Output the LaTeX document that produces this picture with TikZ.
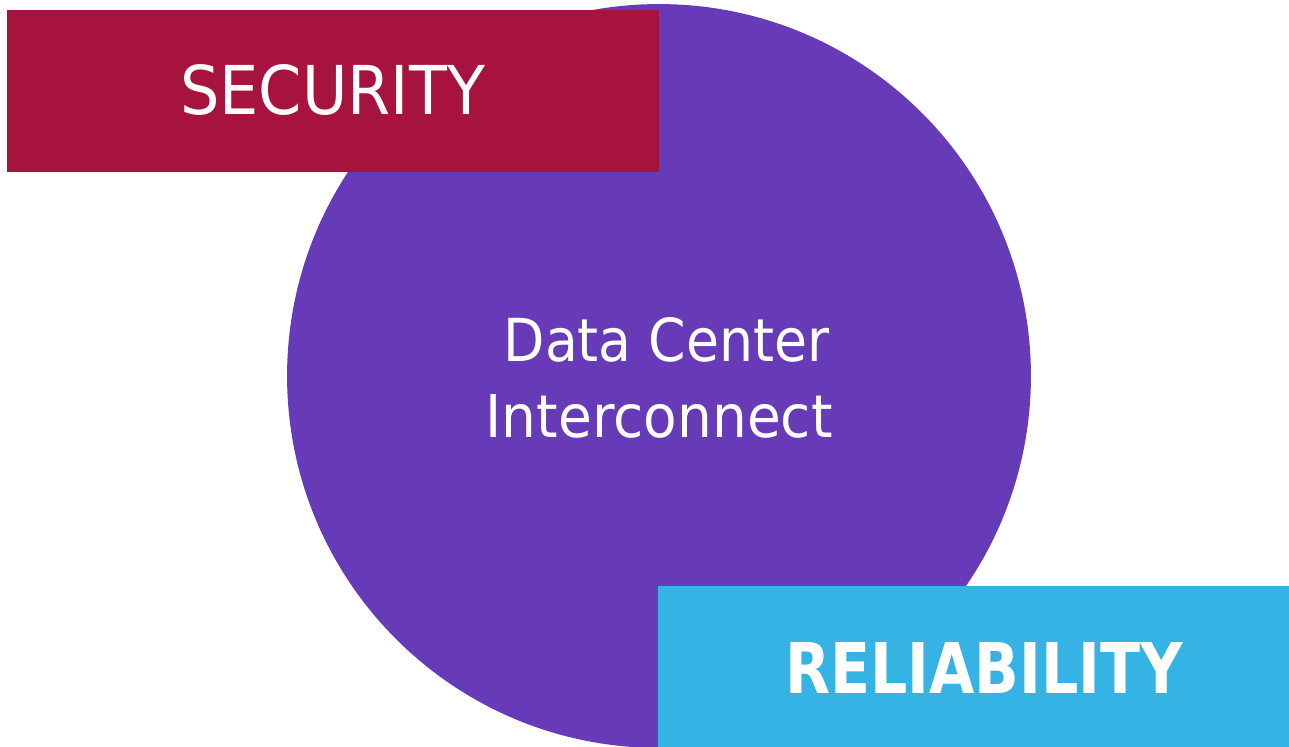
\documentclass[tikz,border=0pt]{standalone}
\usepackage{fontspec}
\usepackage{graphicx}
\setmainfont{DejaVu Sans}
\definecolor{secred}{HTML}{A6133F}
\definecolor{dcipurple}{HTML}{673AB7}
\definecolor{relblue}{HTML}{36B3E5}
\begin{document}
\begin{tikzpicture}[x=0.02cm, y=-0.02cm]

\useasboundingbox (0, 0) rectangle (1289, 747);

\node[circle, fill=dcipurple, minimum size=14.88cm, inner sep=0] (dci) at (659, 376) {};

\node[rectangle, fill=secred, minimum width=13.04cm, minimum height=3.24cm, inner sep=0] (sec) at (333, 91) {};
\node[text=white, inner sep=0] (sect) at (332.5, 90) {\resizebox{6.1cm}{1.0cm}{SECURITY}};

\node[rectangle, fill=relblue, minimum width=12.62cm, minimum height=3.22cm, inner sep=0] (rel) at (973.5, 666.5) {};
\node[text=white, inner sep=0] (relt) at (984, 667.5) {\resizebox{7.96cm}{1.02cm}{\bfseries RELIABILITY}};

\node[text=white, inner sep=0, anchor=east] (dci1) at (830, 340) {\resizebox{6.52cm}{0.88cm}{Data Center}};
\node[text=white, inner sep=0, anchor=east] (dci2) at (833, 416) {\resizebox{6.94cm}{0.86cm}{Interconnect}};

\end{tikzpicture}
\end{document}
